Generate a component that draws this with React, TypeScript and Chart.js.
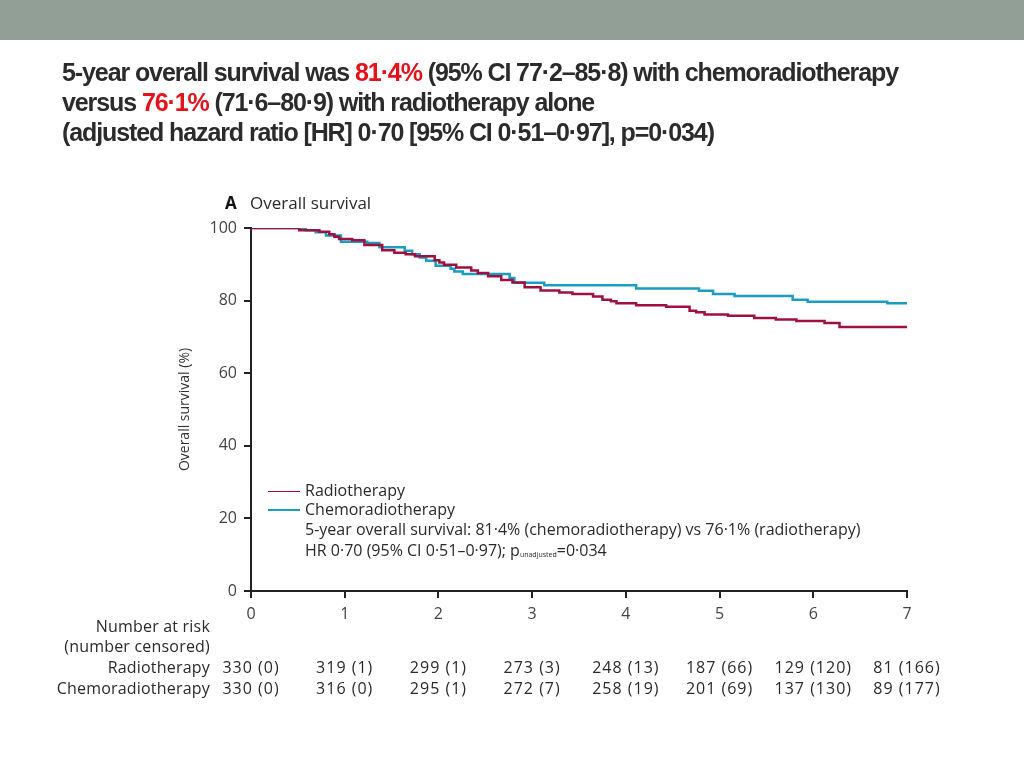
import React, { useEffect, useRef } from "react";
import { Chart, registerables } from "chart.js";

Chart.register(...registerables);

// ---- data ----
const radTimes = [0, 0.515, 0.73, 0.835, 0.89, 0.94, 1.08, 1.21, 1.4, 1.53, 1.65, 1.75, 1.96, 2.01, 2.06, 2.19, 2.35, 2.42, 2.53, 2.67, 2.79, 2.92, 3.09, 3.29, 3.43, 3.65, 3.75, 3.84, 3.9, 4.11, 4.43, 4.68, 4.75, 4.84, 5.09, 5.37, 5.6, 5.82, 6.12, 6.28, 7.0];
const radSurv = [100, 99.4, 99.0, 98.3, 97.6, 97.0, 96.6, 95.3, 93.9, 93.2, 92.8, 92.2, 91.1, 90.5, 89.9, 89.1, 88.3, 87.6, 86.7, 85.7, 85.0, 83.7, 82.8, 82.2, 81.8, 81.1, 80.2, 79.8, 79.3, 78.7, 78.3, 77.2, 76.8, 76.2, 75.8, 75.2, 74.8, 74.4, 73.8, 72.7, 72.7];

const chemoTimes = [0, 0.585, 0.69, 0.8, 0.96, 1.24, 1.37, 1.64, 1.72, 1.8, 1.87, 1.97, 2.13, 2.17, 2.26, 2.76, 2.81, 3.13, 4.11, 4.78, 4.93, 5.16, 5.78, 5.94, 6.79, 7.0];
const chemoSurv = [100, 99.4, 98.8, 97.9, 96.2, 95.9, 94.7, 93.7, 92.8, 91.9, 91.0, 89.6, 88.8, 88.0, 87.3, 86.2, 84.9, 84.2, 83.3, 82.7, 81.8, 81.3, 80.2, 79.7, 79.3, 79.3];

const seriesNames = ["Radiotherapy", "Chemoradiotherapy"];
const riskYears = [0, 1, 2, 3, 4, 5, 6, 7];
const radAtRisk = [330, 319, 299, 273, 248, 187, 129, 81];
const radCensored = [0, 1, 1, 3, 13, 66, 120, 166];
const chemoAtRisk = [330, 316, 295, 272, 258, 201, 137, 89];
const chemoCensored = [0, 0, 1, 7, 19, 69, 130, 177];

const panelLetter = "A";
const panelTitle = "Overall survival";
const yTitle = "Overall survival (%)";
const statLine = "5-year overall survival: 81·4% (chemoradiotherapy) vs 76·1% (radiotherapy)";
const hrPre = "HR 0·70 (95% CI 0·51–0·97); p";
const hrSub = "unadjusted";
const hrPost = "=0·034";
const riskHeader1 = "Number at risk";
const riskHeader2 = "(number censored)";

const RED = "#9e1040";
const CYAN = "#1a9dbf";
const FONT = "'Open Sans', 'Liberation Sans', sans-serif";
const TXT = "#2a2a2a";

const overlayPlugin = {
  id: "overlay",
  afterDraw(chart: any) {
    const { ctx, chartArea } = chart;
    const xs = chart.scales.x;
    ctx.save();
    ctx.fillStyle = TXT;
    ctx.textBaseline = "middle";
    // panel title
    ctx.textAlign = "left";
    ctx.font = `bold 17px ${FONT}`;
    ctx.fillStyle = "#111";
    ctx.fillText(panelLetter, chartArea.left - 26, chartArea.top - 24);
    ctx.font = `17px ${FONT}`;
    ctx.fillStyle = TXT;
    ctx.fillText(panelTitle, chartArea.left - 1, chartArea.top - 24);

    // legend
    const lx = chartArea.left + 17;
    const ly = chartArea.top + 263;
    const colors = [RED, CYAN];
    const widths = [1, 2];
    ctx.font = `16px ${FONT}`;
    seriesNames.forEach((n, i) => {
      const y = ly + i * 19;
      ctx.strokeStyle = colors[i];
      ctx.lineWidth = widths[i];
      ctx.beginPath();
      const yy = i === 0 ? Math.round(y) + 0.5 : Math.round(y);
      ctx.moveTo(lx, yy);
      ctx.lineTo(lx + 32, yy);
      ctx.stroke();
      ctx.fillStyle = TXT;
      ctx.fillText(n, lx + 37, y);
    });
    ctx.fillText(statLine, lx + 37, ly + 39);
    const y4 = ly + 60;
    ctx.fillText(hrPre, lx + 37, y4);
    const w = ctx.measureText(hrPre).width;
    ctx.font = `7px ${FONT}`;
    ctx.fillText(hrSub, lx + 37 + w, y4 + 4);
    const ws = ctx.measureText(hrSub).width;
    ctx.font = `16px ${FONT}`;
    ctx.fillText(hrPost, lx + 37 + w + ws, y4);

    // number at risk table
    const labelX = chartArea.left - 41;
    const r0 = chartArea.bottom + 36;
    ctx.textAlign = "right";
    (ctx as any).letterSpacing = "0.2px";
    ctx.fillText(riskHeader1, labelX, r0);
    ctx.fillText(riskHeader2, labelX, r0 + 20);
    ctx.fillText(seriesNames[0], labelX, r0 + 41);
    ctx.fillText(seriesNames[1], labelX, r0 + 62);
    ctx.textAlign = "center";
    (ctx as any).letterSpacing = "1px";
    riskYears.forEach((yr, i) => {
      const px = xs.getPixelForValue(yr);
      ctx.fillText(`${radAtRisk[i]} (${radCensored[i]})`, px, r0 + 41);
      ctx.fillText(`${chemoAtRisk[i]} (${chemoCensored[i]})`, px, r0 + 62);
    });
    (ctx as any).letterSpacing = "0px";
    ctx.restore();
  },
};

function KMChart() {
  const ref = useRef<HTMLCanvasElement | null>(null);
  useEffect(() => {
    if (!ref.current) return;
    const toPts = (t: number[], s: number[]) => t.map((x, i) => ({ x, y: s[i] }));
    const chart = new Chart(ref.current, {
      type: "line",
      data: {
        datasets: [
          {
            label: seriesNames[0],
            data: toPts(radTimes, radSurv),
            borderColor: RED,
            borderWidth: 2.5,
            pointRadius: 0,
            stepped: "before",
            fill: false,
          },
          {
            label: seriesNames[1],
            data: toPts(chemoTimes, chemoSurv),
            borderColor: CYAN,
            borderWidth: 2.5,
            pointRadius: 0,
            stepped: "before",
            fill: false,
          },
        ],
      },
      options: {
        animation: false,
        responsive: false,
        maintainAspectRatio: false,
        layout: { padding: { left: 0, top: 228, right: 117, bottom: 147 } },
        plugins: { legend: { display: false }, tooltip: { enabled: false }, title: { display: false } },
        scales: {
          x: {
            type: "linear",
            min: 0,
            max: 7,
            ticks: { stepSize: 1, color: "#444", font: { size: 16, family: FONT }, padding: 7 },
            grid: { drawOnChartArea: false, drawTicks: true, tickLength: 7, color: "#222", lineWidth: 2 },
            border: { display: true, color: "#222", width: 2 },
            afterFit: (s: any) => {
              s.height = 30;
            },
          },
          y: {
            type: "linear",
            min: 0,
            max: 100,
            ticks: { stepSize: 20, color: "#444", font: { size: 16, family: FONT }, padding: 7 },
            grid: { drawOnChartArea: false, drawTicks: true, tickLength: 7, color: "#222", lineWidth: 2 },
            border: { display: true, color: "#222", width: 2 },
            title: {
              display: true,
              text: yTitle,
              color: "#333",
              font: { size: 14, family: FONT },
              padding: { top: 177, bottom: 0 },
            },
            afterFit: (s: any) => {
              s.width = 251;
            },
          },
        },
      },
      plugins: [overlayPlugin],
    });
    return () => chart.destroy();
  }, []);
  return <canvas ref={ref} width={1024} height={768} style={{ position: "absolute", left: 0, top: 0, width: 1024, height: 768 }} />;
}

const headRed = { color: "#e3121b" };

export default function App() {
  return (
    <div style={{ position: "fixed", left: 0, top: 0, width: 1024, height: 768, background: "#fff", overflow: "hidden" }}>
      <div style={{ position: "absolute", left: 0, top: 0, width: 1024, height: 40, background: "#919f97" }} />
      <KMChart />
      <div
        style={{
          position: "absolute",
          left: 62,
          top: 57,
          fontFamily: "'Liberation Sans Narrow', 'Liberation Sans', sans-serif",
          fontWeight: "bold",
          fontSize: 25,
          lineHeight: "30px",
          color: "#2b2b2b",
          letterSpacing: "-1.1px",
          whiteSpace: "nowrap",
        }}
      >
        <div>
          5-year overall survival was <span style={headRed}>81·4%</span> (95% CI 77·2–85·8) with chemoradiotherapy
        </div>
        <div>
          versus <span style={headRed}>76·1%</span> (71·6–80·9) with radiotherapy alone
        </div>
        <div>(adjusted hazard ratio [HR] 0·70 [95% CI 0·51–0·97], p=0·034)</div>
      </div>
    </div>
  );
}
